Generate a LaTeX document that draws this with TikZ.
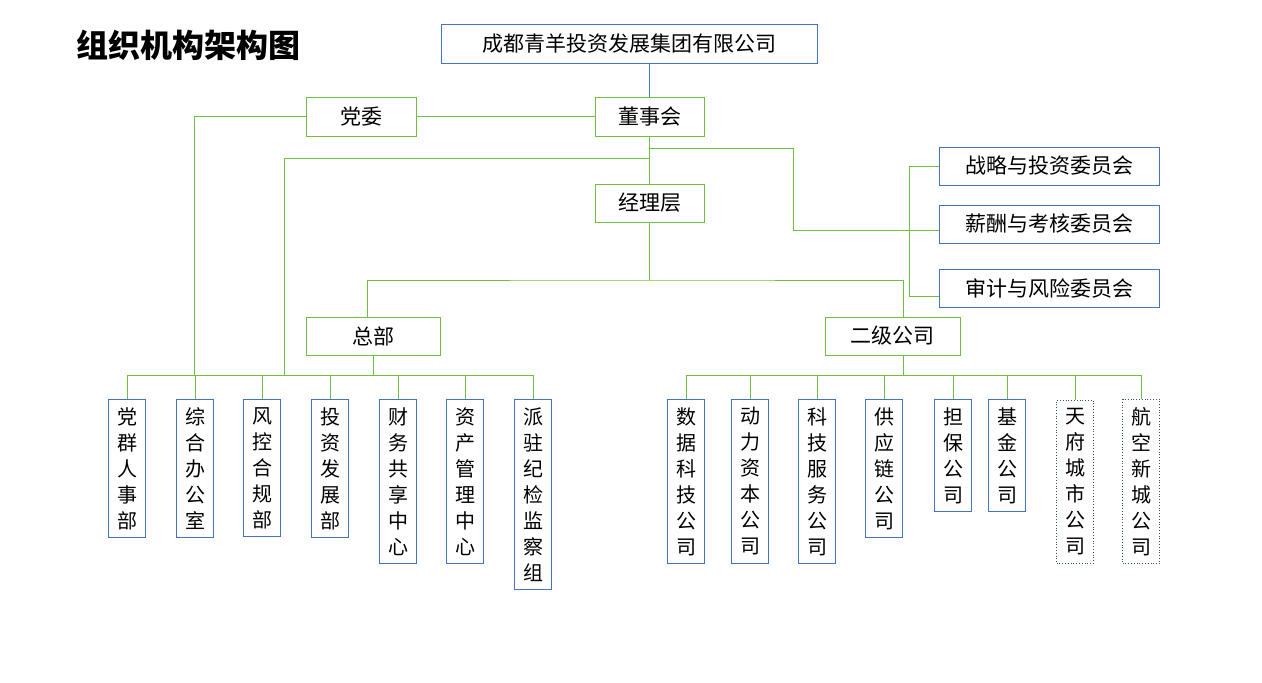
\documentclass[tikz,border=0pt]{standalone}
\usepackage{fontspec}
\setmainfont{Noto Sans CJK SC}
\definecolor{bl}{HTML}{4472C4}
\definecolor{gr}{HTML}{70BF41}
\tikzset{
 hbox/.style={draw=#1, thick, inner sep=0pt, font=\fontsize{21}{24}\selectfont},
 vbox/.style={draw=bl, thick, anchor=north, minimum width=37pt, inner xsep=0pt, inner ysep=8pt, align=center, font=\fontsize{20}{26}\selectfont},
 dbox/.style={vbox, dotted, draw=bl!70!black},
 ln/.style={gr, thick}
}
\begin{document}
\begin{tikzpicture}[x=1pt,y=-1pt]
\useasboundingbox (0,0) rectangle (1262,683);
\node[anchor=west, font=\fontsize{32}{36}\selectfont\bfseries] (title) at (73,45) {组织机构架构图};
\node[hbox=bl, minimum width=376pt, minimum height=39pt] (top) at (629,43.5) {成都青羊投资发展集团有限公司};
\node[hbox=gr, minimum width=110pt, minimum height=39pt] (dw) at (361,116.5) {党委};
\node[hbox=gr, minimum width=109pt, minimum height=39pt] (dsh) at (649.5,116.5) {董事会};
\node[hbox=gr, minimum width=109pt, minimum height=38pt] (jl) at (649.5,203) {经理层};
\node[hbox=bl, minimum width=220pt, minimum height=38pt] (c1) at (1049,166) {战略与投资委员会};
\node[hbox=bl, minimum width=220pt, minimum height=38pt] (c2) at (1049,224) {薪酬与考核委员会};
\node[hbox=bl, minimum width=220pt, minimum height=38pt] (c3) at (1049,288) {审计与风险委员会};
\node[hbox=gr, minimum width=134pt, minimum height=38pt] (zb) at (373,336) {总部};
\node[hbox=gr, minimum width=135pt, minimum height=38pt] (ej) at (892.5,336) {二级公司};
% left boxes
\node[vbox] (l1) at (127,399) {党\\群\\人\\事\\部};
\node[vbox] (l2) at (195,399) {综\\合\\办\\公\\室};
\node[vbox] (l3) at (262,399) {风\\控\\合\\规\\部};
\node[vbox] (l4) at (330,399) {投\\资\\发\\展\\部};
\node[vbox] (l5) at (398,399) {财\\务\\共\\享\\中\\心};
\node[vbox] (l6) at (465,399) {资\\产\\管\\理\\中\\心};
\node[vbox] (l7) at (533,399) {派\\驻\\纪\\检\\监\\察\\组};
% right boxes
\node[vbox] (r1) at (686,399) {数\\据\\科\\技\\公\\司};
\node[vbox] (r2) at (750,399) {动\\力\\资\\本\\公\\司};
\node[vbox] (r3) at (817,399) {科\\技\\服\\务\\公\\司};
\node[vbox] (r4) at (884,399) {供\\应\\链\\公\\司};
\node[vbox] (r5) at (953,399) {担\\保\\公\\司};
\node[vbox] (r6) at (1007,399) {基\\金\\公\\司};
\node[dbox] (r7) at (1075,400) {天\\府\\城\\市\\公\\司};
\node[dbox] (r8) at (1141,399) {航\\空\\新\\城\\公\\司};
% connectors
\draw[bl, thick] (top.south -| dsh) -- (dsh.north);
\draw[ln] (dw.east) -- (dsh.west);
\draw[ln] (dsh.south) -- (jl.north);
\draw[ln] (dw.west) -| (194,375);
\draw[ln] (649.5,158) -| (284,375);
\draw[ln] (649.5,148) -| (793,230) -- (909,230);
\draw[ln] (c1.west) -| (909,296) -- (939,296);
\draw[ln] (909,230) -- (939,230);
\draw[ln] (jl.south) -- (649.5,280);
\draw[ln] (367,317) |- (649.5,280) -| (903,317);
\draw[ln] (zb.south) -- (373,375);
\draw[ln] (903,355) -- (903,375);
\draw[ln] (l1.north) |- (533,375) -- (l7.north);
\foreach \n in {l2,l3,l4,l5,l6} \draw[ln] (\n.north) -- (\n.north |- 0,375);
\draw[ln] (r1.north) |- (1141,375) -- (r8.north);
\foreach \n in {r2,r3,r4,r5,r6,r7} \draw[ln] (\n.north) -- (\n.north |- 0,375);
\end{tikzpicture}
\end{document}
